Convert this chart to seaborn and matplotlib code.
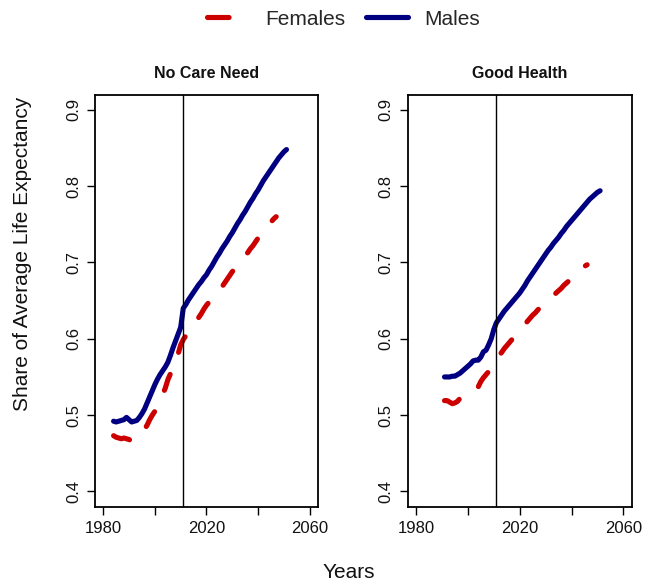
import numpy as np
import pandas as pd
import seaborn as sns
import matplotlib
matplotlib.use("Agg")
import matplotlib.pyplot as plt
from matplotlib.lines import Line2D

# values
panels = ["No Care Need", "Good Health"]

nocare_m_years = list(range(1984, 2052))
nocare_m = [0.492, 0.491, 0.492, 0.493, 0.494, 0.497, 0.494, 0.491, 0.492, 0.493,
            0.497, 0.502, 0.508, 0.516, 0.524, 0.532, 0.540, 0.547, 0.553, 0.558,
            0.563, 0.569, 0.578, 0.588, 0.597, 0.606, 0.615, 0.640, 0.645, 0.651,
            0.656, 0.661, 0.666, 0.671, 0.675, 0.680, 0.684, 0.690, 0.695, 0.701,
            0.707, 0.712, 0.718, 0.723, 0.728, 0.734, 0.739, 0.745, 0.751, 0.756,
            0.762, 0.767, 0.773, 0.779, 0.784, 0.790, 0.795, 0.801, 0.807, 0.812,
            0.817, 0.822, 0.827, 0.832, 0.837, 0.841, 0.845, 0.848]

nocare_f_years = list(range(1984, 2048))
nocare_f = [0.473, 0.471, 0.470, 0.469, 0.470, 0.469, 0.468, 0.466, 0.468, 0.470,
            0.472, 0.476, 0.481, 0.487, 0.494, 0.500, 0.505, 0.510, 0.518, 0.527,
            0.535, 0.546, 0.554, 0.562, 0.570, 0.580, 0.592, 0.599, 0.604, 0.609,
            0.614, 0.618, 0.623, 0.628, 0.633, 0.639, 0.644, 0.648, 0.652, 0.656,
            0.660, 0.664, 0.668, 0.673, 0.678, 0.683, 0.688, 0.692, 0.697, 0.701,
            0.705, 0.709, 0.713, 0.718, 0.722, 0.727, 0.732, 0.737, 0.741, 0.745,
            0.749, 0.753, 0.757, 0.760]

health_m_years = list(range(1991, 2052))
health_m = [0.550, 0.550, 0.550, 0.551, 0.551, 0.553, 0.555, 0.558, 0.561, 0.564,
            0.567, 0.571, 0.572, 0.572, 0.576, 0.583, 0.585, 0.592, 0.600, 0.612,
            0.621, 0.626, 0.631, 0.636, 0.640, 0.644, 0.648, 0.652, 0.656, 0.660,
            0.665, 0.670, 0.676, 0.681, 0.686, 0.691, 0.696, 0.701, 0.706, 0.711,
            0.716, 0.720, 0.725, 0.729, 0.733, 0.738, 0.742, 0.747, 0.751, 0.755,
            0.759, 0.763, 0.767, 0.771, 0.775, 0.779, 0.783, 0.786, 0.789, 0.792,
            0.794]

health_f_years = list(range(1991, 2047))
health_f = [0.519, 0.519, 0.517, 0.515, 0.516, 0.518, 0.522, 0.526, 0.529, 0.531,
            0.533, 0.534, 0.535, 0.537, 0.544, 0.549, 0.553, 0.557, 0.561, 0.566,
            0.572, 0.578, 0.582, 0.587, 0.591, 0.595, 0.599, 0.603, 0.607, 0.611,
            0.615, 0.619, 0.623, 0.627, 0.631, 0.634, 0.638, 0.641, 0.644, 0.647,
            0.650, 0.653, 0.656, 0.660, 0.663, 0.666, 0.670, 0.673, 0.676, 0.680,
            0.683, 0.686, 0.689, 0.692, 0.695, 0.697]

x_ticks = [1980, 2000, 2020, 2040, 2060]
x_labels = ["1980", "", "2020", "", "2060"]
y_ticks = [0.4, 0.5, 0.6, 0.7, 0.8, 0.9]
cut_year = 2011

col_f = "#CD0000"
col_m = "#000080"

sns.set_style("white")
plt.rcParams["font.family"] = ["Liberation Sans", "DejaVu Sans"]

def make_df(years, vals):
    return pd.DataFrame({"year": years, "value": vals})

data = {
    "No Care Need": (make_df(nocare_f_years, nocare_f), make_df(nocare_m_years, nocare_m)),
    "Good Health": (make_df(health_f_years, health_f), make_df(health_m_years, health_m)),
}

fig = plt.figure(figsize=(6.52, 5.84), dpi=100)
positions = [[0.1457, 0.1324, 0.342, 0.7056], [0.6253, 0.1324, 0.3436, 0.7056]]

lw = 3.7
dash = (0, (3.3, 4.6))

for name, pos in zip(panels, positions):
    ax = fig.add_axes(pos)
    df_f, df_m = data[name]
    sns.lineplot(data=df_f, x="year", y="value", ax=ax, color=col_f, lw=lw,
                 linestyle=dash, dash_capstyle="round", solid_capstyle="round")
    sns.lineplot(data=df_m, x="year", y="value", ax=ax, color=col_m, lw=lw,
                 solid_capstyle="round", solid_joinstyle="round")
    ax.axvline(cut_year, color="black", lw=1.0)
    ax.set_xlim(1976.8, 2063.2)
    ax.set_ylim(0.38, 0.92)
    ax.set_xticks(x_ticks)
    ax.set_xticklabels(x_labels)
    ax.set_yticks(y_ticks)
    ax.set_yticklabels([f"{v:.1f}" for v in y_ticks], rotation=90, va="center")
    ax.tick_params(axis="both", direction="out", length=6, width=1.0, labelsize=12,
                   color="black", labelcolor="#111111", pad=4, left=True, bottom=True)
    for s in ax.spines.values():
        s.set_color("black")
        s.set_linewidth(1.3)
    ax.set_xlabel("")
    ax.set_ylabel("")
    ax.set_title(name, fontsize=11.5, fontweight="bold", pad=12, color="#111111")

fig.text(0.535, 0.019, "Years", fontsize=15, ha="center", va="center", color="#111111")
fig.text(0.035, 0.565, "Share of Average Life Expectancy", fontsize=15, rotation=90,
         ha="center", va="center", color="#111111")

handles = [
    Line2D([0], [0], color=col_f, lw=lw, linestyle=(0, (4.2, 10)), dash_capstyle="round"),
    Line2D([0], [0], color=col_m, lw=lw, solid_capstyle="round"),
]
fig.legend(handles, ["Females", "Males"], loc="center", bbox_to_anchor=(0.527, 0.967),
           ncol=2, frameon=False, fontsize=15, handlelength=2.0, columnspacing=1.0,
           handletextpad=0.8)

fig.savefig("out.png", dpi=100)
